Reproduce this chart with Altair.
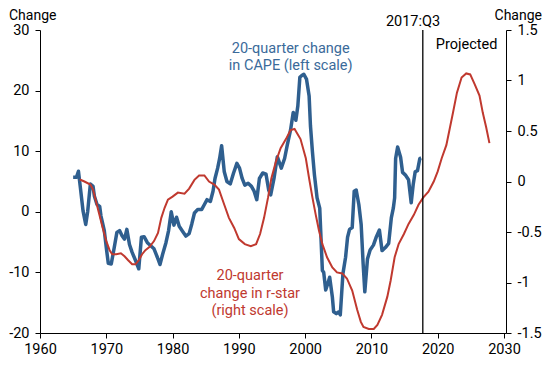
import altair as alt
import pandas as pd

# 20-quarter change in CAPE (left scale)
cape_year = [1965.0, 1965.5, 1965.8, 1966.1, 1966.5, 1966.9, 1967.2, 1967.6, 1968.0, 1968.2,
             1968.6, 1969.0, 1969.2, 1969.7, 1970.0, 1970.3, 1970.75, 1971.2, 1971.6, 1972.0,
             1972.4, 1972.75, 1973.1, 1973.5, 1973.9, 1974.4, 1974.9, 1975.3, 1975.7, 1976.2,
             1976.7, 1977.2, 1977.7, 1978.1, 1978.5, 1979.0, 1979.4, 1979.8, 1980.2, 1980.6,
             1981.0, 1981.5, 1982.0, 1982.5, 1982.9, 1983.3, 1983.8, 1984.4, 1984.8, 1985.2,
             1985.7, 1986.1, 1986.4, 1986.8, 1987.1, 1987.4, 1987.8, 1988.2, 1988.7, 1989.2,
             1989.7, 1990.1, 1990.5, 1990.9, 1991.4, 1991.9, 1992.3, 1992.7, 1993.1, 1993.6,
             1994.1, 1994.5, 1994.8, 1995.3, 1995.8, 1996.4, 1996.9, 1997.3, 1997.8, 1998.2,
             1998.6, 1998.9, 1999.2, 1999.5, 1999.8, 2000.2, 2000.6, 2000.8, 2001.1, 2001.4,
             2001.8, 2002.2, 2002.6, 2002.8, 2003.1, 2003.4, 2003.7, 2004.1, 2004.3, 2004.7,
             2005.1, 2005.3, 2005.7, 2006.1, 2006.4, 2006.7, 2007.1, 2007.4, 2007.7, 2008.1,
             2008.45, 2008.75, 2009.0, 2009.4, 2009.8, 2010.3, 2010.75, 2011.2, 2011.6, 2012.1,
             2012.6, 2013.0, 2013.3, 2013.5, 2013.65, 2013.95, 2014.4, 2014.7, 2015.1, 2015.6,
             2016.0, 2016.3, 2016.6, 2016.95, 2017.3, 2017.5]
cape_chg = [5.7, 5.7, 6.7, 3.9, 0.1, -2.1, 0.1, 4.6, 4.2, 2.6,
            1.2, 0.9, -0.7, -3.1, -5.9, -8.5, -8.6, -5.9, -3.4, -3.1,
            -4.0, -4.5, -2.9, -5.4, -6.7, -8.0, -9.4, -4.2, -4.1, -5.1,
            -5.6, -6.1, -7.5, -8.7, -7.0, -5.1, -3.1, 0.0, -2.2, -0.9,
            -2.4, -3.2, -4.0, -3.6, -2.0, -0.2, 0.4, 0.4, 1.2, 2.0,
            1.7, 3.4, 5.5, 7.2, 8.8, 10.9, 6.6, 5.0, 4.6, 6.4,
            8.0, 7.2, 5.5, 4.4, 4.7, 4.2, 3.4, 2.0, 5.5, 6.4,
            6.2, 3.6, 2.8, 5.5, 9.1, 7.2, 8.8, 11.0, 13.5, 16.4,
            15.1, 17.5, 22.2, 22.5, 22.7, 21.9, 19.1, 14.2, 9.9, 6.1,
            2.3, 0.6, -9.7, -10.0, -12.9, -11.9, -10.8, -14.0, -16.5, -16.8,
            -16.5, -17.0, -10.2, -7.5, -4.2, -2.9, -2.6, 3.4, 3.6, 1.2,
            -2.1, -8.6, -13.2, -7.8, -6.3, -5.5, -4.1, -3.0, -6.4, -5.9,
            -5.2, -1.0, 0.6, 2.3, 8.8, 10.7, 9.0, 6.5, 6.1, 5.3,
            1.5, 4.5, 6.6, 6.8, 8.8, 8.9]

# 20-quarter change in r-star (right scale), incl. projection
rstar_year = [1966.0, 1966.7, 1967.6, 1968.0, 1968.5, 1969.0, 1969.5, 1970.0, 1970.5, 1970.9,
              1971.5, 1972.2, 1972.75, 1973.3, 1973.9, 1974.4, 1974.9, 1975.4, 1975.9, 1976.5,
              1977.2, 1977.8, 1978.3, 1978.8, 1979.3, 1980.0, 1980.8, 1981.8, 1982.5, 1983.3,
              1984.0, 1984.8, 1985.5, 1986.3, 1987.0, 1987.8, 1988.5, 1989.3, 1990.0, 1990.9,
              1991.8, 1992.6, 1993.2, 1993.8, 1994.4, 1994.9, 1995.6, 1996.3, 1997.1, 1997.8,
              1998.4, 1999.3, 2000.1, 2000.6, 2001.1, 2001.6, 2002.1, 2002.6, 2003.3, 2004.1,
              2004.8, 2005.6, 2006.3, 2007.1, 2007.85, 2008.4, 2008.8, 2009.6, 2010.35, 2010.9,
              2011.6, 2012.4, 2012.9, 2013.5, 2014.1, 2014.9, 2015.6, 2016.4, 2017.1, 2017.8,
              2018.6, 2019.4, 2020.0, 2020.6, 2021.3, 2021.8, 2022.3, 2022.9, 2023.6, 2024.3,
              2024.9, 2025.6, 2026.3, 2026.8, 2027.3, 2027.8]
rstar_chg = [0.02, 0.0, -0.03, -0.08, -0.21, -0.34, -0.47, -0.59, -0.68, -0.72,
             -0.72, -0.71, -0.74, -0.78, -0.82, -0.82, -0.78, -0.72, -0.68, -0.65,
             -0.59, -0.51, -0.36, -0.26, -0.18, -0.15, -0.11, -0.12, -0.07, 0.016,
             0.06, 0.06, 0.0, -0.03, -0.08, -0.23, -0.36, -0.46, -0.57, -0.62,
             -0.64, -0.62, -0.52, -0.36, -0.16, 0.03, 0.20, 0.33, 0.42, 0.51,
             0.52, 0.42, 0.23, 0.03, -0.16, -0.33, -0.49, -0.62, -0.75, -0.85,
             -0.90, -0.91, -0.96, -1.08, -1.27, -1.39, -1.44, -1.46, -1.46, -1.42,
             -1.32, -1.14, -0.98, -0.75, -0.62, -0.52, -0.42, -0.33, -0.23, -0.16,
             -0.10, 0.0, 0.10, 0.23, 0.36, 0.52, 0.68, 0.88, 1.03, 1.07,
             1.06, 0.96, 0.85, 0.68, 0.54, 0.38]

x_ticks = [1960, 1970, 1980, 1990, 2000, 2010, 2020, 2030]
left_ticks = [-20, -10, 0, 10, 20, 30]
right_ticks = [-1.5, -1, -0.5, 0, 0.5, 1, 1.5]
cutoff = [2017.75]

BLUE = "#2f5f8f"
BLUE_TXT = "#3a6a9a"
RED = "#c0392f"
FONT = "Roboto"

cape_df = pd.DataFrame({"year": cape_year, "chg": cape_chg})
rstar_df = pd.DataFrame({"year": rstar_year, "chg": rstar_chg})
cut_df = pd.DataFrame({"year": cutoff})

xscale = alt.Scale(domain=[1960, 2030.3], nice=False, zero=False)
xaxis = alt.Axis(values=x_ticks, format="d", title=None, labelFontSize=14.5, labelColor="black",
                 labelFont=FONT, labelPadding=4, labelFlush=False, tickSize=5, tickColor="black",
                 domainColor="black", grid=False)

def yaxis(orient, vals, tx, talign):
    return alt.Axis(orient=orient, values=vals, title="Change", titleAngle=0, titleAlign=talign,
                    titleBaseline="alphabetic", titleX=tx, titleY=-11, titleFontSize=14,
                    titleFontWeight="normal", titleColor="black", titleFont=FONT,
                    labelFontSize=14.5, labelColor="black", labelFont=FONT, labelPadding=6,
                    tickSize=5, tickColor="black", domainColor="black", grid=False,
                    labelExpr="'' + datum.value")

cape = alt.Chart(cape_df).mark_line(color=BLUE, strokeWidth=3.5, strokeJoin="round").encode(
    x=alt.X("year:Q", scale=xscale, axis=xaxis),
    y=alt.Y("chg:Q", scale=alt.Scale(domain=[-20, 30], nice=False),
            axis=yaxis("left", left_ticks, -31.5, "left")),
)

rstar = alt.Chart(rstar_df).mark_line(color=RED, strokeWidth=2).encode(
    x=alt.X("year:Q", scale=xscale, axis=xaxis),
    y=alt.Y("chg:Q", scale=alt.Scale(domain=[-1.5, 1.5], nice=False),
            axis=yaxis("right", right_ticks, 35.5, "right")),
)

rule = alt.Chart(cut_df).mark_rule(color="black", strokeWidth=1.3).encode(
    x=alt.X("year:Q", scale=xscale, axis=xaxis)
)

def label(text, x, y, color):
    return alt.Chart(pd.DataFrame({"t": [text]})).mark_text(
        font=FONT, fontSize=14.5, color=color, align="center", baseline="middle",
        lineBreak="\n", lineHeight=17.5,
    ).encode(text="t:N", x=alt.value(x), y=alt.value(y))

lab_cape = label("20-quarter change\nin CAPE (left scale)", 250.7, 18.5, BLUE_TXT)
lab_rstar = label("20-quarter\nchange in r-star\n(right scale)", 210, 246, RED)
lab_q = label("2017:Q3", 373, -8.5, "black")
lab_proj = label("Projected", 426.6, 15, "black")

chart = alt.layer(cape, rstar, rule, lab_cape, lab_rstar, lab_q, lab_proj).resolve_scale(
    y="independent"
).properties(
    width=466, height=303, autosize="none",
    padding={"left": 32, "top": 22, "right": 36, "bottom": 24},
).configure_view(stroke=None)

chart.save("out.html", embed_options={"renderer": "svg", "actions": False})
